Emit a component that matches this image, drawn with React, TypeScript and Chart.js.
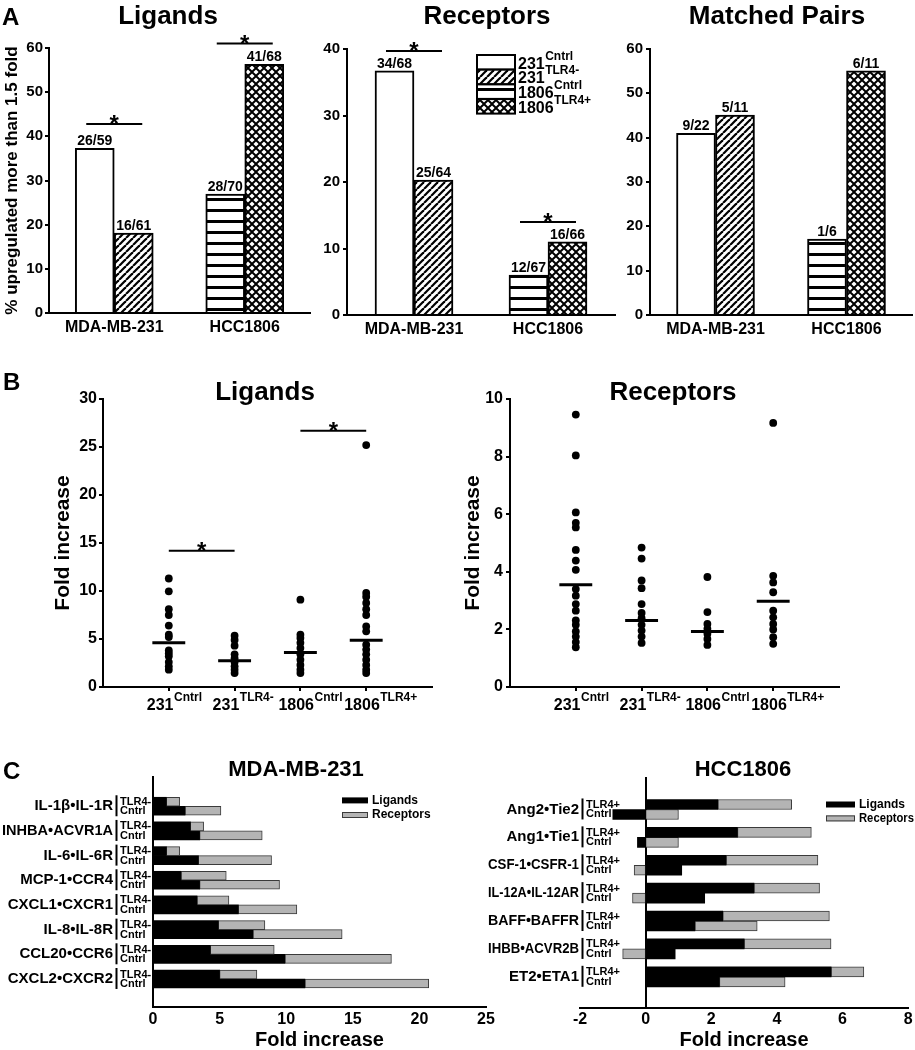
import React, { useEffect, useRef } from 'react';
import { Chart, registerables } from 'chart.js';

Chart.register(...registerables);

const FONT = "'Liberation Sans', Arial, Helvetica, sans-serif";
Chart.defaults.font.family = FONT;
Chart.defaults.font.weight = 'bold' as any;
Chart.defaults.color = '#000';

// ================= Panel A data =================
const A_GROUPS = ['MDA-MB-231', 'HCC1806'];
const A_SERIES_BASE = ['231', '231', '1806', '1806'];
const A_SERIES_SUP = ['Cntrl', 'TLR4-', 'Cntrl', 'TLR4+'];
const A_SERIES_GROUP = [0, 0, 1, 1];

const A_LIG_PCT = [37.3, 18.1, 26.9, 56.3];
const A_LIG_COUNTS = ['26/59', '16/61', '28/70', '41/68'];
const A_LIG_SIG = [[0, 1, 42.8], [2, 3, 61.0]];

const A_REC_PCT = [36.7, 20.3, 6.0, 11.0];
const A_REC_COUNTS = ['34/68', '25/64', '12/67', '16/66'];
const A_REC_SIG = [[0, 1, 39.7], [2, 3, 14.0]];

const A_PAIR_PCT = [41.0, 45.1, 17.1, 55.1];
const A_PAIR_COUNTS = ['9/22', '5/11', '1/6', '6/11'];
const A_PAIR_SIG: number[][] = [];

// ================= Panel B data =================
const B_GROUP_BASE = ['231', '231', '1806', '1806'];
const B_GROUP_SUP = ['Cntrl', 'TLR4-', 'Cntrl', 'TLR4+'];

const B_LIG_231_CNTRL = [11.3, 9.97, 8.1, 7.5, 6.4, 5.45, 5.2, 3.8, 3.5, 3.2, 2.6, 2.15, 1.8];
const B_LIG_231_TLR4 = [5.35, 4.9, 4.3, 3.4, 3.0, 2.6, 2.15, 1.8, 1.45];
const B_LIG_1806_CNTRL = [9.1, 5.45, 5.1, 4.6, 4.05, 3.4, 2.85, 2.3, 1.8, 1.45];
const B_LIG_1806_TLR4 = [25.2, 9.8, 9.4, 8.75, 8.1, 7.5, 6.3, 5.8, 4.4, 3.9, 3.4, 2.85, 2.3, 1.8, 1.45];
const B_LIG_MEANS = [4.6, 2.74, 3.6, 4.86];
const B_LIG_SIG = [[0, 1, 14.2], [2, 3, 26.7]];

const B_REC_231_CNTRL = [9.46, 8.04, 6.06, 5.7, 5.54, 4.76, 4.39, 4.07, 3.4, 3.17, 2.88, 2.65, 2.31, 2.16, 1.93, 1.75, 1.56, 1.38];
const B_REC_231_TLR4 = [4.84, 4.46, 3.7, 3.43, 2.88, 2.57, 2.39, 2.16, 1.96, 1.75, 1.53];
const B_REC_1806_CNTRL = [3.82, 2.6, 2.19, 2.02, 1.85, 1.67, 1.46];
const B_REC_1806_TLR4 = [9.17, 3.86, 3.63, 3.29, 2.65, 2.42, 2.19, 2.0, 1.73, 1.5];
const B_REC_MEANS = [3.55, 2.31, 1.93, 2.98];
const B_REC_SIG: number[][] = [];

// ================= Panel C data =================
const C_SERIES = ['Ligands', 'Receptors'];

const C1_PAIRS = ['IL-1β•IL-1R', 'INHBA•ACVR1A', 'IL-6•IL-6R', 'MCP-1•CCR4', 'CXCL1•CXCR1', 'IL-8•IL-8R', 'CCL20•CCR6', 'CXCL2•CXCR2'];
const C1_ROWS = ['TLR4-', 'Cntrl'];
const C1_LIG_TLR4 = [1.0, 2.8, 1.0, 2.1, 3.3, 4.9, 4.3, 5.0];
const C1_REC_TLR4 = [1.0, 1.0, 1.0, 3.4, 2.4, 3.5, 4.8, 2.8];
const C1_LIG_CNTRL = [2.4, 3.5, 3.4, 3.5, 6.4, 7.5, 9.9, 11.4];
const C1_REC_CNTRL = [2.7, 4.7, 5.5, 6.0, 4.4, 6.7, 8.0, 9.3];

const C2_PAIRS = ['Ang2•Tie2', 'Ang1•Tie1', 'CSF-1•CSFR-1', 'IL-12A•IL-12AR', 'BAFF•BAFFR', 'IHBB•ACVR2B', 'ET2•ETA1'];
const C2_ROWS = ['TLR4+', 'Cntrl'];
const C2_LIG_TLR4 = [2.2, 2.8, 2.45, 3.3, 2.35, 3.0, 5.65];
const C2_REC_TLR4 = [2.25, 2.25, 2.8, 2.0, 3.25, 2.65, 1.0];
const C2_LIG_CNTRL = [-1.0, -0.25, 1.1, 1.8, 1.5, 0.9, 2.25];
const C2_REC_CNTRL = [1.0, 1.0, -0.35, -0.4, 1.9, -0.7, 2.0];

// ================= helpers =================
const BLACK = '#000000';
const GRAY = '#b4b4b4';

function makePatterns(): any[] {
  const tile = (w: number, h: number, draw: (g: CanvasRenderingContext2D) => void) => {
    const c = document.createElement('canvas');
    c.width = w;
    c.height = h;
    const g = c.getContext('2d')!;
    draw(g);
    return g.createPattern(c, 'repeat');
  };
  const diag = tile(7, 7, (g) => {
    g.fillStyle = '#fff';
    g.fillRect(0, 0, 7, 7);
    g.strokeStyle = '#000';
    g.lineWidth = 2.2;
    for (let k = -1; k <= 1; k++) {
      g.beginPath();
      g.moveTo(k * 7, 7);
      g.lineTo(k * 7 + 7, 0);
      g.stroke();
    }
  });
  const hstripe = tile(11, 11, (g) => {
    g.fillStyle = '#fff';
    g.fillRect(0, 0, 11, 11);
    g.fillStyle = '#000';
    g.fillRect(0, 0, 11, 3);
  });
  const cross = tile(8, 8, (g) => {
    g.fillStyle = '#000';
    g.fillRect(0, 0, 8, 8);
    g.fillStyle = '#fff';
    const d = (cx: number, cy: number) => {
      const r = 2.6;
      g.beginPath();
      g.moveTo(cx, cy - r);
      g.lineTo(cx + r, cy);
      g.lineTo(cx, cy + r);
      g.lineTo(cx - r, cy);
      g.closePath();
      g.fill();
    };
    d(4, 4);
    d(0, 0);
    d(8, 0);
    d(0, 8);
    d(8, 8);
  });
  return ['#ffffff', diag, hstripe, cross];
}

const f = (size: number) => `bold ${size}px ${FONT}`;

function drawSig(ctx: CanvasRenderingContext2D, x1: number, x2: number, y: number) {
  ctx.save();
  ctx.strokeStyle = '#000';
  ctx.fillStyle = '#000';
  ctx.lineWidth = 2;
  ctx.beginPath();
  ctx.moveTo(x1, y);
  ctx.lineTo(x2, y);
  ctx.stroke();
  ctx.font = f(24);
  ctx.textAlign = 'center';
  ctx.textBaseline = 'alphabetic';
  ctx.fillText('*', (x1 + x2) / 2, y + 8);
  ctx.restore();
}

function drawSup(ctx: CanvasRenderingContext2D, base: string, sup: string, x: number, y: number, bs: number, ss: number, raise: number) {
  ctx.textAlign = 'left';
  ctx.textBaseline = 'alphabetic';
  ctx.font = f(bs);
  const wb = ctx.measureText(base).width;
  ctx.fillText(base, x, y);
  ctx.font = f(ss);
  ctx.fillText(sup, x + wb + 0.5, y - raise);
}

function drawTitle(ctx: CanvasRenderingContext2D, text: string, x: number, y: number, size: number) {
  ctx.font = f(size);
  ctx.textAlign = 'center';
  ctx.textBaseline = 'alphabetic';
  ctx.fillText(text, x, y);
}

function drawLetter(ctx: CanvasRenderingContext2D, text: string, x: number, y: number) {
  ctx.font = f(24);
  ctx.textAlign = 'left';
  ctx.textBaseline = 'alphabetic';
  ctx.fillText(text, x, y);
}

const axisBorder = { display: true, color: '#000', width: 2 };
const baseOptions = {
  animation: false,
  responsive: false,
  events: [],
};
const noPlugins = { legend: { display: false }, tooltip: { enabled: false }, title: { display: false } };

// ================= Panel A config =================
function barAConfig(pats: any[], values: number[], counts: string[], sig: number[][], o: any) {
  return {
    type: 'bar',
    data: {
      labels: A_GROUPS,
      datasets: A_SERIES_BASE.map((b, i) => ({
        label: b + ' ' + A_SERIES_SUP[i],
        data: A_GROUPS.map((_, g) => (g === A_SERIES_GROUP[i] ? values[i] : null)),
        backgroundColor: pats[i],
        borderColor: '#000',
        borderWidth: 2,
        barThickness: 39,
        skipNull: true,
      })),
    },
    options: {
      ...baseOptions,
      layout: { padding: { top: o.top, right: o.right, left: 0, bottom: 0 } },
      plugins: noPlugins,
      scales: {
        x: {
          grid: { display: false, drawTicks: false },
          border: axisBorder,
          ticks: { font: { size: 16, weight: 'bold' }, padding: 5, color: '#000', maxRotation: 0 },
          afterFit: (s: any) => { s.height = o.xh; },
        },
        y: {
          min: 0,
          max: o.yMax,
          ticks: { stepSize: 10, font: { size: 15, weight: 'bold' }, padding: o.tickPad, color: '#000' },
          grid: { drawOnChartArea: false, drawTicks: true, tickLength: 4, color: '#000', lineWidth: 2 },
          border: axisBorder,
          title: o.yTitle
            ? { display: true, text: o.yTitle, color: '#000', font: { size: 17, weight: 'bold' }, padding: { top: 1.8, bottom: 0 } }
            : { display: false },
          afterFit: (s: any) => { s.width = o.yw; },
        },
      },
    },
    plugins: [
      {
        id: 'aDecor',
        afterDraw(chart: any) {
          const ctx = chart.ctx as CanvasRenderingContext2D;
          ctx.save();
          ctx.fillStyle = '#000';
          ctx.strokeStyle = '#000';
          drawTitle(ctx, o.title, o.titleX, 23.5, 26);
          if (o.letter) drawLetter(ctx, o.letter, 2, 25);
          ctx.font = f(14);
          ctx.textAlign = 'center';
          ctx.textBaseline = 'alphabetic';
          counts.forEach((t, i) => {
            const el = chart.getDatasetMeta(i).data[A_SERIES_GROUP[i]];
            ctx.fillText(t, el.x, el.y - 3);
          });
          sig.forEach(([a, b, v]) => {
            const xa = chart.getDatasetMeta(a).data[A_SERIES_GROUP[a]].x - 8.5;
            const xb = chart.getDatasetMeta(b).data[A_SERIES_GROUP[b]].x + 8.5;
            drawSig(ctx, xa, xb, chart.scales.y.getPixelForValue(v));
          });
          if (o.legend) {
            const bx = o.legend.x;
            chart.data.datasets.forEach((ds: any, i: number) => {
              const by = o.legend.y + i * 14.7;
              ctx.fillStyle = ds.backgroundColor;
              ctx.fillRect(bx, by, 38, 14.5);
              ctx.lineWidth = 2;
              ctx.strokeStyle = '#000';
              ctx.strokeRect(bx, by, 38, 14.5);
              ctx.fillStyle = '#000';
              drawSup(ctx, A_SERIES_BASE[i], A_SERIES_SUP[i], bx + 41, by + 13.5, 16, 12, 9);
            });
          }
          ctx.restore();
        },
      },
    ],
  };
}

// ================= Panel B config =================
function dotConfig(groups: number[][], means: number[], sig: number[][], o: any) {
  const datasets: any[] = [];
  groups.forEach((vals, g) => {
    datasets.push({
      type: 'scatter',
      label: B_GROUP_BASE[g] + ' ' + B_GROUP_SUP[g],
      data: vals.map((v) => ({ x: g + 1, y: v })),
      pointRadius: 3.9,
      pointBackgroundColor: '#000',
      pointBorderWidth: 0,
      backgroundColor: '#000',
      borderColor: '#000',
    });
  });
  means.forEach((m, g) => {
    datasets.push({
      type: 'line',
      label: 'mean',
      data: [{ x: g + 1 - 0.25, y: m }, { x: g + 1 + 0.25, y: m }],
      borderColor: '#000',
      borderWidth: 3,
      pointRadius: 0,
      fill: false,
    });
  });
  return {
    type: 'scatter',
    data: { datasets },
    options: {
      ...baseOptions,
      layout: { padding: { top: 54, right: o.right, left: 0, bottom: 0 } },
      plugins: noPlugins,
      scales: {
        x: {
          type: 'linear',
          min: 0,
          max: B_GROUP_BASE.length + 1,
          afterBuildTicks: (s: any) => { s.ticks = B_GROUP_BASE.map((_, i) => ({ value: i + 1 })); },
          ticks: { display: false },
          grid: { drawOnChartArea: false, drawTicks: true, tickLength: 4, color: '#000', lineWidth: 2 },
          border: axisBorder,
          afterFit: (s: any) => { s.height = 33; },
        },
        y: {
          min: 0,
          max: o.yMax,
          ticks: { stepSize: o.step, font: { size: 16, weight: 'bold' }, padding: o.tickPad, color: '#000' },
          grid: { drawOnChartArea: false, drawTicks: true, tickLength: 4, color: '#000', lineWidth: 2 },
          border: axisBorder,
          title: { display: true, text: 'Fold increase', color: '#000', font: { size: 21, weight: 'bold' }, padding: { top: o.titlePad, bottom: 0 } },
          afterFit: (s: any) => { s.width = o.yw; },
        },
      },
    },
    plugins: [
      {
        id: 'bDecor',
        afterDraw(chart: any) {
          const ctx = chart.ctx as CanvasRenderingContext2D;
          const ca = chart.chartArea;
          ctx.save();
          ctx.fillStyle = '#000';
          drawTitle(ctx, o.title, o.titleX, 55, 26);
          if (o.letter) drawLetter(ctx, o.letter, 3, 45);
          const xs = chart.scales.x;
          B_GROUP_BASE.forEach((b, i) => {
            const px = xs.getPixelForValue(i + 1);
            drawSup(ctx, b, B_GROUP_SUP[i], px - 22, ca.bottom + 23, 16, 12, 9);
          });
          sig.forEach(([a, b, v]) => {
            drawSig(ctx, xs.getPixelForValue(a + 1), xs.getPixelForValue(b + 1), chart.scales.y.getPixelForValue(v));
          });
          ctx.restore();
        },
      },
    ],
  };
}

// ================= Panel C config =================
function hbarConfig(pairs: string[], rows: string[], ligT: number[], recT: number[], ligC: number[], recC: number[], o: any) {
  const mk = (label: string, vals: number[], stack: string, color: string, gray: boolean) => ({
    label,
    stack,
    data: vals.map((v, i) => ({ x: v, y: i + 1 })),
    backgroundColor: color,
    borderColor: gray ? '#3a3a3a' : '#000',
    borderWidth: gray ? 1 : 0,
    borderSkipped: false,
    barThickness: o.bt,
  });
  return {
    type: 'bar',
    data: {
      datasets: [
        mk(C_SERIES[0], ligT, 'treated', BLACK, false),
        mk(C_SERIES[1], recT, 'treated', GRAY, true),
        mk(C_SERIES[0], ligC, 'control', BLACK, false),
        mk(C_SERIES[1], recC, 'control', GRAY, true),
      ],
    },
    options: {
      ...baseOptions,
      indexAxis: 'y',
      layout: { padding: { top: o.top, right: o.right, left: o.left, bottom: 0 } },
      plugins: noPlugins,
      scales: {
        x: {
          type: 'linear',
          min: o.xMin,
          max: o.xMax,
          stacked: true,
          ticks: { stepSize: o.step, font: { size: 16, weight: 'bold' }, padding: o.tickPad, color: '#000' },
          grid: { display: false, drawTicks: false },
          border: axisBorder,
          title: { display: true, text: 'Fold increase', color: '#000', font: { size: 20, weight: 'bold', lineHeight: 1 }, padding: { top: 0, bottom: 0 } },
          afterFit: (s: any) => { s.height = o.xh; },
        },
        y: {
          type: 'linear',
          min: o.yMin,
          max: o.yMax,
          reverse: true,
          stacked: true,
          position: o.yPos,
          ticks: { display: false },
          grid: { display: false, drawTicks: false },
          border: axisBorder,
          afterFit: (s: any) => { if (o.yw) s.width = o.yw; },
        },
      },
    },
    plugins: [
      {
        id: 'cDecor',
        afterDraw(chart: any) {
          const ctx = chart.ctx as CanvasRenderingContext2D;
          const ca = chart.chartArea;
          ctx.save();
          ctx.fillStyle = '#000';
          ctx.strokeStyle = '#000';
          drawTitle(ctx, o.title, o.titleX, 31, 22);
          if (o.letter) drawLetter(ctx, o.letter, 3, 34);
          const ys = chart.scales.y;
          const xr = ca.left - o.labelGap;
          pairs.forEach((p, i) => {
            const cy = ys.getPixelForValue(i + 1);
            ctx.font = f(15);
            ctx.textAlign = 'right';
            ctx.textBaseline = 'middle';
            ctx.fillText(p, xr, cy, xr - o.labelMinX);
            ctx.lineWidth = 2;
            ctx.beginPath();
            ctx.moveTo(xr + 3.5, cy - 11);
            ctx.lineTo(xr + 3.5, cy + 10);
            ctx.stroke();
            ctx.font = f(11);
            ctx.textAlign = 'left';
            ctx.fillText(rows[0], xr + 7, cy - 4.5);
            ctx.fillText(rows[1], xr + 7, cy + 5);
          });
          // legend
          const ds = chart.data.datasets;
          [ds[0], ds[1]].forEach((d: any, i: number) => {
            const yy = o.legY + i * o.legGap;
            ctx.fillStyle = d.backgroundColor;
            ctx.fillRect(o.legX, yy - 3, o.legW, 6);
            if (d.borderWidth) {
              ctx.strokeStyle = d.borderColor;
              ctx.lineWidth = 1;
              ctx.strokeRect(o.legX + 0.5, yy - 2.5, o.legW - 1, 5);
            }
            ctx.fillStyle = '#000';
            ctx.font = f(12);
            ctx.textAlign = 'left';
            ctx.textBaseline = 'middle';
            ctx.fillText(d.label, o.legX + o.legW + 4, yy, o.legTextMax);
          });
          ctx.restore();
        },
      },
    ],
  };
}

// ================= components =================
function ChartBox({ x, y, w, h, build }: { x: number; y: number; w: number; h: number; build: (p: any[]) => any }) {
  const ref = useRef<HTMLCanvasElement>(null);
  useEffect(() => {
    const pats = makePatterns();
    const chart = new Chart(ref.current as HTMLCanvasElement, build(pats));
    return () => chart.destroy();
  }, [build]);
  return <canvas ref={ref} width={w} height={h} style={{ position: 'absolute', left: x, top: y, width: w, height: h }} />;
}

const buildA1 = (p: any[]) =>
  barAConfig(p, A_LIG_PCT, A_LIG_COUNTS, A_LIG_SIG, {
    title: 'Ligands', titleX: 168, letter: 'A', top: 48, right: 2, xh: 32, yw: 49, yMax: 60, tickPad: 2,
    yTitle: '% upregulated more than 1.5 fold',
  });
const buildA2 = (p: any[]) =>
  barAConfig(p, A_REC_PCT, A_REC_COUNTS, A_REC_SIG, {
    title: 'Receptors', titleX: 175, top: 49, right: 3, xh: 30, yw: 35, yMax: 40, tickPad: 3,
    legend: { x: 165, y: 55 },
  });
const buildA3 = (p: any[]) =>
  barAConfig(p, A_PAIR_PCT, A_PAIR_COUNTS, A_PAIR_SIG, {
    title: 'Matched Pairs', titleX: 159, top: 49, right: 3, xh: 30, yw: 32, yMax: 60, tickPad: 3,
  });
const buildB1 = () =>
  dotConfig([B_LIG_231_CNTRL, B_LIG_231_TLR4, B_LIG_1806_CNTRL, B_LIG_1806_TLR4], B_LIG_MEANS, B_LIG_SIG, {
    title: 'Ligands', titleX: 265, letter: 'B', right: 23, yMax: 30, step: 5, yw: 103, tickPad: 2, titlePad: 50.4,
  });
const buildB2 = () =>
  dotConfig([B_REC_231_CNTRL, B_REC_231_TLR4, B_REC_1806_CNTRL, B_REC_1806_TLR4], B_REC_MEANS, B_REC_SIG, {
    title: 'Receptors', titleX: 218, right: 76, yMax: 10, step: 2, yw: 55, tickPad: 3, titlePad: 5.4,
  });
const buildC1 = () =>
  hbarConfig(C1_PAIRS, C1_ROWS, C1_LIG_TLR4, C1_REC_TLR4, C1_LIG_CNTRL, C1_REC_CNTRL, {
    title: 'MDA-MB-231', titleX: 296, letter: 'C', top: 32, right: 14, left: 0, xh: 43, yw: 153,
    xMin: 0, xMax: 25, step: 5, tickPad: 3.4, yMin: 0.28, yMax: 8.67, yPos: 'left', bt: 9, labelGap: 40, labelMinX: 2,
    legX: 342, legY: 55.4, legGap: 14.6, legW: 26, legTextMax: 60,
  });
const buildC2 = () =>
  hbarConfig(C2_PAIRS, C2_ROWS, C2_LIG_TLR4, C2_REC_TLR4, C2_LIG_CNTRL, C2_REC_CNTRL, {
    title: 'HCC1806', titleX: 263, top: 33, right: 3, left: 100, xh: 42, yw: 0,
    xMin: -2, xMax: 8, step: 2, tickPad: 2.4, yMin: 0.33, yMax: 7.66, yPos: { x: 0 }, bt: 10, labelGap: 1, labelMinX: 8,
    legX: 346, legY: 59.5, legGap: 13.9, legW: 29, legTextMax: 55,
  });

export default function App() {
  return (
    <div style={{ position: 'absolute', left: 0, top: 0, width: 915, height: 1050, background: '#fff', overflow: 'hidden' }}>
      <ChartBox x={0} y={0} w={312} h={345} build={buildA1} />
      <ChartBox x={312} y={0} w={306} h={345} build={buildA2} />
      <ChartBox x={618} y={0} w={297} h={345} build={buildA3} />
      <ChartBox x={0} y={345} w={455} h={375} build={buildB1} />
      <ChartBox x={455} y={345} w={460} h={375} build={buildB2} />
      <ChartBox x={0} y={745} w={500} h={305} build={buildC1} />
      <ChartBox x={480} y={745} w={435} h={305} build={buildC2} />
    </div>
  );
}
